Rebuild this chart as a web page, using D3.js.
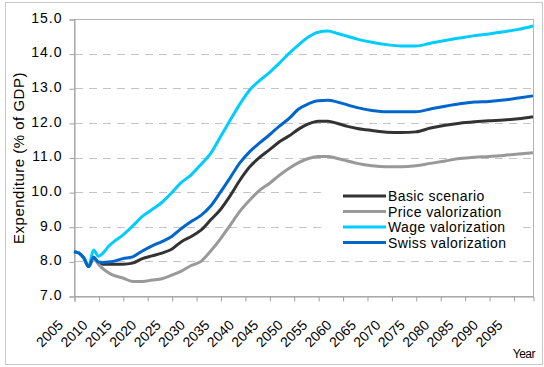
<!DOCTYPE html>
<html>
<head>
<meta charset="utf-8">
<script src="https://cdn.jsdelivr.net/npm/d3@7"></script>
<style>
  html, body { margin: 0; padding: 0; background: #fff; }
  svg { display: block; font-family: "Liberation Sans", Arial, sans-serif; }
</style>
</head>
<body>
<svg id="chart" width="544" height="367"></svg>
<script>
const years = [2005,2006,2007,2008,2009,2010,2011,2012,2013,2015,2017,2019,2021,2023,2025,2027,2029,2031,2033,2035,2037,2039,2041,2043,2045,2047,2049,2051,2053,2055,2057,2059,2061,2063,2066,2069,2072,2075,2078,2081,2084,2087,2090,2093,2096,2099];

const basicScenario = [8.28,8.24,8.10,7.85,8.12,7.95,7.92,7.92,7.92,7.92,7.95,8.08,8.16,8.24,8.35,8.57,8.72,8.90,9.20,9.50,9.90,10.35,10.73,11.00,11.22,11.45,11.62,11.82,11.97,12.05,12.05,11.98,11.90,11.84,11.78,11.73,11.72,11.74,11.85,11.93,11.99,12.03,12.06,12.08,12.12,12.18];
const priceValorization = [8.28,8.24,8.10,7.85,8.10,7.92,7.78,7.68,7.60,7.52,7.42,7.42,7.46,7.50,7.60,7.72,7.88,8.00,8.30,8.65,9.05,9.45,9.77,10.05,10.25,10.48,10.68,10.85,10.97,11.03,11.03,10.97,10.90,10.83,10.76,10.73,10.73,10.76,10.83,10.90,10.97,11.01,11.03,11.06,11.10,11.14];
const wageValorization = [8.28,8.24,8.10,7.85,8.33,8.15,8.25,8.42,8.55,8.76,9.02,9.30,9.50,9.70,9.98,10.28,10.50,10.80,11.12,11.60,12.08,12.55,12.95,13.22,13.45,13.72,14.00,14.25,14.48,14.62,14.65,14.58,14.50,14.42,14.33,14.26,14.22,14.22,14.30,14.38,14.45,14.52,14.57,14.63,14.70,14.80];
const swissValorization = [8.28,8.24,8.10,7.85,8.12,7.98,7.97,7.98,8.00,8.08,8.13,8.30,8.45,8.57,8.72,8.95,9.15,9.33,9.60,10.00,10.42,10.85,11.17,11.42,11.65,11.90,12.12,12.40,12.55,12.64,12.65,12.60,12.52,12.44,12.36,12.32,12.32,12.32,12.40,12.48,12.55,12.60,12.62,12.66,12.72,12.78];

const seriesNames = ["Basic scenario", "Price valorization", "Wage valorization", "Swiss valorization"];
const seriesColors = ["#333333", "#999999", "#00ccff", "#0066cc"];
const seriesValues = [basicScenario, priceValorization, wageValorization, swissValorization];

const yTicks = [7,8,9,10,11,12,13,14,15];
const xTicks = [2005,2010,2015,2020,2025,2030,2035,2040,2045,2050,2055,2060,2065,2070,2075,2080,2085,2090,2095];

const yAxisTitle = "Expenditure (% of GDP)";
const xAxisTitle = "Year";

const svg = d3.select("#chart");
const pLeft = 74, pRight = 533, pTop = 19, pBottom = 296;

const x = d3.scaleLinear().domain([2005, 2099]).range([pLeft, pRight]);
const y = d3.scaleLinear().domain([7, 15]).range([pBottom, pTop]);

// outer frame
svg.append("rect")
  .attr("x", 5.5).attr("y", 2.5).attr("width", 537).attr("height", 362)
  .attr("fill", "#fff").attr("stroke", "#c8c8c8").attr("stroke-width", 1);

// gridlines
svg.append("g").selectAll("line")
  .data(yTicks.filter(v => v > 7 && v < 15))
  .join("line")
  .attr("x1", pLeft + 1).attr("x2", pRight)
  .attr("y1", d => Math.round(y(d)) + 0.5).attr("y2", d => Math.round(y(d)) + 0.5)
  .attr("stroke", "#c4c4c4").attr("stroke-width", 1)
  .attr("stroke-dasharray", "8,6");

// plot frame
svg.append("rect")
  .attr("x", pLeft + 0.5).attr("y", pTop + 0.5)
  .attr("width", pRight - pLeft).attr("height", pBottom - pTop)
  .attr("fill", "none").attr("stroke", "#b4b4b4").attr("stroke-width", 1);

// y axis
const yAxis = d3.axisLeft(y).tickValues(yTicks).tickSize(5).tickPadding(7)
  .tickFormat(d3.format(".1f"));
const gy = svg.append("g").attr("transform", `translate(${pLeft + 0.5},0.5)`).call(yAxis);
gy.select(".domain").attr("stroke", "#a0a0a0");
gy.selectAll(".tick line").attr("stroke", "#a0a0a0");
gy.selectAll(".tick text")
  .attr("font-size", 14).attr("fill", "#000")
  .attr("font-family", "Liberation Sans, Arial, sans-serif")
  .attr("letter-spacing", "1px")
  .attr("dy", "0.2em");

// x axis
const xAxis = d3.axisBottom(x).tickValues(xTicks).tickSize(5).tickFormat("");
const gx = svg.append("g").attr("transform", `translate(0.5,${pBottom + 0.5})`).call(xAxis);
gx.select(".domain").attr("stroke", "#a0a0a0");
gx.selectAll(".tick line").attr("stroke", "#a0a0a0");

svg.append("g").selectAll("text")
  .data(xTicks)
  .join("text")
  .attr("transform", d => `translate(${x(d) - 10},${pBottom + 30}) rotate(-45)`)
  .attr("text-anchor", "end")
  .attr("font-size", 14)
  .attr("fill", "#000")
  .text(d => d);

// lines
const line = d3.line()
  .x((d, i) => x(years[i]))
  .y(d => y(d))
  .curve(d3.curveMonotoneX);

svg.append("g").selectAll("path")
  .data(seriesValues)
  .join("path")
  .attr("d", d => line(d))
  .attr("fill", "none")
  .attr("stroke", (d, i) => seriesColors[i])
  .attr("stroke-width", 3)
  .attr("stroke-linejoin", "round");

// legend
const lg = svg.append("g");
lg.append("rect").attr("x", 324).attr("y", 186).attr("width", 196).attr("height", 70).attr("fill", "#fff");
const rows = lg.selectAll("g.row").data(seriesNames).join("g")
  .attr("transform", (d, i) => `translate(0,${196 + i * 15.5})`);
rows.append("line").attr("x1", 343).attr("x2", 386).attr("y1", 0).attr("y2", 0)
  .attr("stroke", (d, i) => seriesColors[i]).attr("stroke-width", 3);
rows.append("text").attr("x", 388).attr("y", 5)
  .attr("font-size", 14).attr("letter-spacing", "0.4px").attr("fill", "#000")
  .text(d => d);

// axis titles
svg.append("text")
  .attr("transform", `translate(24,158) rotate(-90)`)
  .attr("text-anchor", "middle")
  .attr("font-size", 15).attr("letter-spacing", "0.5px").attr("fill", "#000")
  .text(yAxisTitle);

svg.append("text")
  .attr("x", 535).attr("y", 358)
  .attr("text-anchor", "end")
  .attr("font-size", 12).attr("letter-spacing", "-0.5px").attr("fill", "#000")
  .text(xAxisTitle);
</script>
</body>
</html>
